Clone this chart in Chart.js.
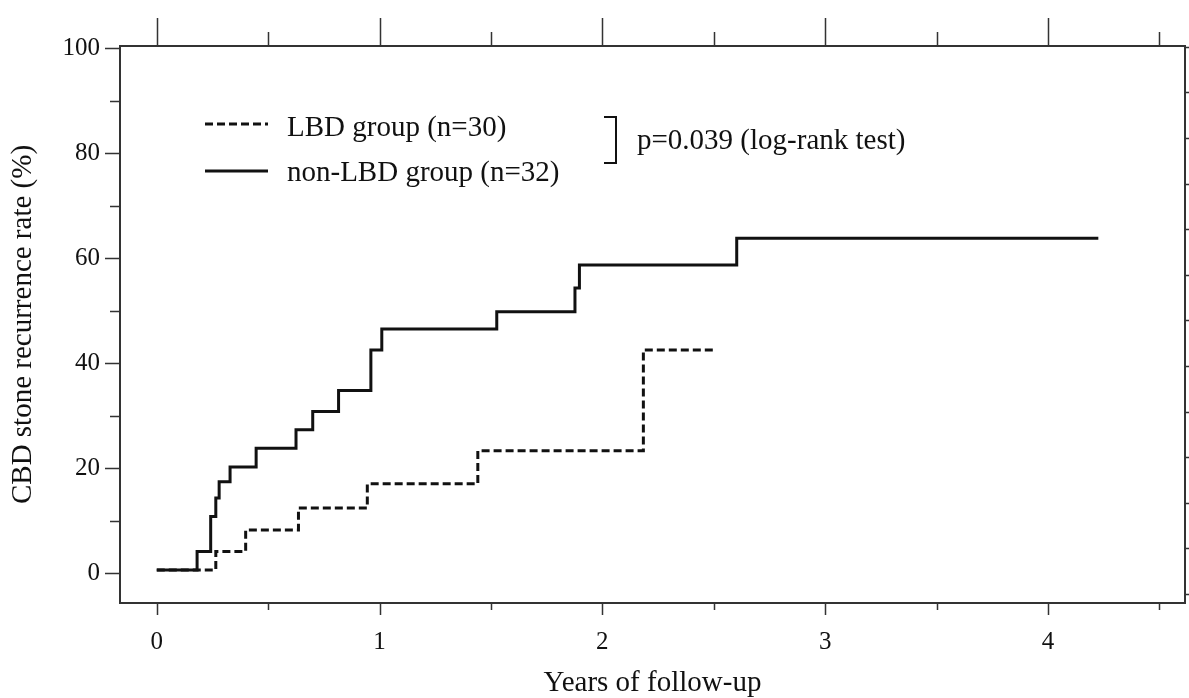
<!DOCTYPE html>
<html>
<head>
<meta charset="utf-8">
<script src="https://cdn.jsdelivr.net/npm/chart.js@4.4.1/dist/chart.umd.min.js"></script>
<style>
  body { margin: 0; background: #fff; }
  canvas { display: block; }
</style>
</head>
<body>
<canvas id="chart" width="1189" height="698"></canvas>
<script>
// Kaplan-Meier style cumulative recurrence
const lbdYears = [0, 0.265, 0.399, 0.636, 0.945, 1.441, 2.184, 2.503];
const lbdRate = [0.6, 4.1, 8.2, 12.4, 17.0, 23.3, 42.5, 42.5];

const nonLbdYears = [0, 0.181, 0.242, 0.265, 0.280, 0.329, 0.446, 0.625, 0.700, 0.816, 0.961, 1.010, 1.526, 1.877, 1.897, 2.603, 4.226];
const nonLbdRate = [0.6, 4.1, 10.8, 14.3, 17.4, 20.2, 23.8, 27.3, 30.8, 34.8, 42.5, 46.5, 49.8, 54.3, 58.7, 63.8, 63.8];

const seriesLabels = ["LBD group (n=30)", "non-LBD group (n=32)"];
const pValueText = "p=0.039 (log-rank test)";

const xTicks = [0, 1, 2, 3, 4];
const xMinorTicks = [0.5, 1.5, 2.5, 3.5, 4.5];
const yTicks = [0, 20, 40, 60, 80, 100];
const yMinorTicks = [10, 30, 50, 70, 90];
const rightTicks = [0, 1, 2, 3, 4, 5, 6, 7, 8, 9, 10, 11, 12];

const serif = "'Liberation Serif', 'Times New Roman', serif";
const ink = "#111";
const axisColor = "#333";

function toPoints(xs, ys) {
    return xs.map((x, i) => ({ x: x, y: ys[i] }));
}

const tickMarks = {
    id: "tickMarks",
    afterDraw(chart) {
        const { ctx, chartArea } = chart;
        const x = chart.scales.x;
        const y = chart.scales.y;
        const y2 = chart.scales.y2;
        ctx.save();
        ctx.strokeStyle = axisColor;
        ctx.lineWidth = 1.5;
        ctx.beginPath();
        const xAll = xTicks.map(v => [v, true]).concat(xMinorTicks.map(v => [v, false]));
        xAll.forEach(([v, major]) => {
            const px = Math.round(x.getPixelForValue(v)) + 0.5;
            ctx.moveTo(px, chartArea.bottom);
            ctx.lineTo(px, chartArea.bottom + (major ? 12 : 7));
            ctx.moveTo(px, chartArea.top);
            ctx.lineTo(px, chartArea.top - (major ? 28 : 14));
        });
        const yAll = yTicks.map(v => [v, true]).concat(yMinorTicks.map(v => [v, false]));
        yAll.forEach(([v, major]) => {
            const py = Math.round(y.getPixelForValue(v)) + 0.5;
            ctx.moveTo(chartArea.left, py);
            ctx.lineTo(chartArea.left - (major ? 15 : 10), py);
        });
        rightTicks.forEach(v => {
            const py = Math.round(y2.getPixelForValue(v)) + 0.5;
            ctx.moveTo(chartArea.right, py);
            ctx.lineTo(chartArea.right + 6, py);
        });
        ctx.stroke();
        ctx.restore();
    }
};

const keyAndNote = {
    id: "keyAndNote",
    afterDraw(chart) {
        const ctx = chart.ctx;
        const rows = [
            { lineY: 124, textY: 136 },
            { lineY: 171, textY: 181 }
        ];
        ctx.save();
        chart.data.datasets.forEach((ds, i) => {
            const r = rows[i];
            ctx.beginPath();
            ctx.strokeStyle = ds.borderColor;
            ctx.lineWidth = ds.borderWidth;
            ctx.setLineDash(ds.borderDash || []);
            ctx.moveTo(205, r.lineY);
            ctx.lineTo(268, r.lineY);
            ctx.stroke();
            ctx.setLineDash([]);
            ctx.fillStyle = ink;
            ctx.font = "29px " + serif;
            ctx.textBaseline = "alphabetic";
            ctx.textAlign = "left";
            ctx.fillText(ds.label, 287, r.textY);
        });

        // bracket joining the two groups
        ctx.beginPath();
        ctx.strokeStyle = ink;
        ctx.lineWidth = 2;
        ctx.moveTo(604, 117);
        ctx.lineTo(616, 117);
        ctx.lineTo(616, 163);
        ctx.lineTo(604, 163);
        ctx.stroke();
        ctx.fillText(pValueText, 637, 149);
        ctx.restore();
    }
};

const ctx = document.getElementById("chart").getContext("2d");

new Chart(ctx, {
    type: "line",
    data: {
        datasets: [
            {
                label: seriesLabels[0],
                data: toPoints(lbdYears, lbdRate),
                stepped: "before",
                borderColor: ink,
                borderWidth: 3,
                borderDash: [8, 4],
                pointRadius: 0,
                fill: false
            },
            {
                label: seriesLabels[1],
                data: toPoints(nonLbdYears, nonLbdRate),
                stepped: "before",
                borderColor: ink,
                borderWidth: 3,
                pointRadius: 0,
                fill: false
            }
        ]
    },
    options: {
        responsive: false,
        devicePixelRatio: 1,
        animation: false,
        layout: { padding: 0 },
        plugins: {
            legend: { display: false },
            tooltip: { enabled: false }
        },
        scales: {
            x: {
                type: "linear",
                position: "bottom",
                min: -0.165,
                max: 4.615,
                afterBuildTicks: s => { s.ticks = xTicks.map(v => ({ value: v })); },
                afterFit: s => { s.height = 95; },
                ticks: {
                    color: ink,
                    font: { family: serif, size: 25 },
                    padding: 16,
                    maxRotation: 0,
                    callback: v => String(v)
                },
                grid: { display: false },
                border: { display: true, color: axisColor, width: 2 },
                title: {
                    display: true,
                    text: "Years of follow-up",
                    color: ink,
                    font: { family: serif, size: 29, lineHeight: 1 },
                    padding: { top: 0, bottom: 0 }
                }
            },
            x2: {
                type: "linear",
                axis: "x",
                position: "top",
                min: -0.165,
                max: 4.615,
                afterFit: s => { s.height = 46; },
                ticks: { display: false },
                grid: { display: false },
                border: { display: true, color: axisColor, width: 2 }
            },
            y: {
                type: "linear",
                position: "left",
                min: -5.7,
                max: 100.4,
                afterBuildTicks: s => { s.ticks = yTicks.map(v => ({ value: v })); },
                afterFit: s => { s.width = 120; },
                ticks: {
                    color: ink,
                    font: { family: serif, size: 25 },
                    padding: 12,
                    callback: v => String(v)
                },
                grid: { display: false },
                border: { display: true, color: axisColor, width: 2 },
                title: {
                    display: true,
                    text: "CBD stone recurrence rate (%)",
                    color: ink,
                    font: { family: serif, size: 29, lineHeight: 1.2 },
                    padding: { top: 6, bottom: 0 }
                }
            },
            y2: {
                type: "linear",
                axis: "y",
                position: "right",
                min: -0.2,
                max: 12.02,
                afterBuildTicks: s => { s.ticks = rightTicks.map(v => ({ value: v })); },
                afterFit: s => { s.width = 4; },
                ticks: { display: false },
                grid: { display: false },
                border: { display: true, color: axisColor, width: 2 }
            }
        }
    },
    plugins: [tickMarks, keyAndNote]
});
</script>
</body>
</html>
